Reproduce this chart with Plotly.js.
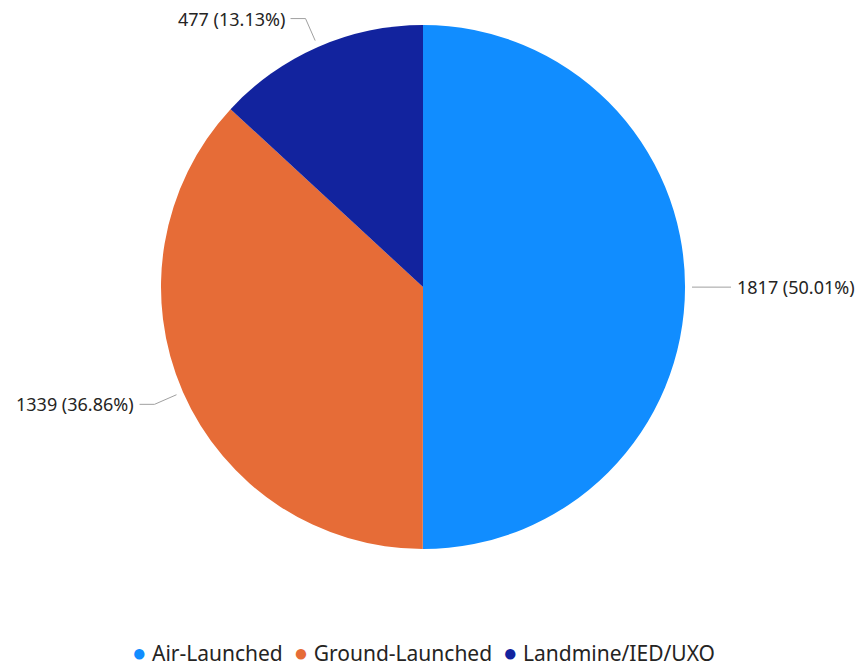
<!DOCTYPE html>
<html><head>
<meta charset="utf-8">
<script src="https://cdn.plot.ly/plotly-3.0.1.min.js"></script>
<style>body{margin:0;background:#fff}</style>
</head><body>
<div id="chart" style="width:863px;height:668px"></div>
<script>
const categories = ['Air-Launched', 'Ground-Launched', 'Landmine/IED/UXO'];
const values = [1817, 1339, 477];
const colors = ['#118DFF', '#E66C37', '#12239E'];

const W = 863, H = 668;
const cx = 423, cy = 287, R = 262;
const FONT = '"Segoe UI", "Noto Sans", "Open Sans", sans-serif';
const total = values.reduce((a, b) => a + b, 0);

const px = x => x / W;
const py = y => 1 - y / H;

const shapes = [];
const annotations = [];
let cum = 0;
values.forEach((v, i) => {
  const th = 2 * Math.PI * (cum + v / 2) / total;
  cum += v;
  const dx = Math.sin(th), dy = -Math.cos(th);
  const side = dx >= 0 ? 1 : -1;
  const p1 = [cx + (R + 7) * dx, cy + (R + 7) * dy];
  const p2 = [cx + (R + 31) * dx, cy + (R + 31) * dy];
  const p3 = [p2[0] + side * 15, p2[1]];
  const lineStyle = {color: '#a0a0a0', width: 1};
  shapes.push({type: 'line', xref: 'paper', yref: 'paper', x0: px(p1[0]), y0: py(p1[1]), x1: px(p2[0]), y1: py(p2[1]), line: lineStyle});
  shapes.push({type: 'line', xref: 'paper', yref: 'paper', x0: px(p2[0]), y0: py(p2[1]), x1: px(p3[0]), y1: py(p3[1]), line: lineStyle});
  annotations.push({
    xref: 'paper', yref: 'paper',
    x: px(p3[0] + side * 4), y: py(p3[1]),
    xanchor: side > 0 ? 'left' : 'right', yanchor: 'middle',
    text: v + ' (' + (v / total * 100).toFixed(2) + '%)',
    showarrow: false,
    font: {family: FONT, size: 18, color: '#252423'}
  });
});

// legend row (circle markers + category names)
const legendText = categories.map((c, i) =>
  '<span style="color:' + colors[i] + ';font-size:24px">●</span> ' + c
).join('  ');
annotations.push({
  xref: 'paper', yref: 'paper', x: px(423), y: py(651),
  xanchor: 'center', yanchor: 'middle', showarrow: false,
  text: legendText,
  font: {family: FONT, size: 21, color: '#252423'}
});

const data = [{
  type: 'pie',
  labels: categories,
  values: values,
  sort: false,
  direction: 'clockwise',
  rotation: 0,
  textinfo: 'none',
  hoverinfo: 'none',
  showlegend: false,
  marker: {colors: colors, line: {width: 0}},
  domain: {x: [px(cx - R), px(cx + R)], y: [py(cy + R), py(cy - R)]}
}];

const layout = {
  width: W, height: H,
  margin: {l: 0, r: 0, t: 0, b: 0, autoexpand: false},
  paper_bgcolor: '#fff',
  showlegend: false,
  shapes: shapes,
  annotations: annotations
};

Plotly.newPlot('chart', data, layout, {displayModeBar: false, staticPlot: true});
</script>
</body></html>
